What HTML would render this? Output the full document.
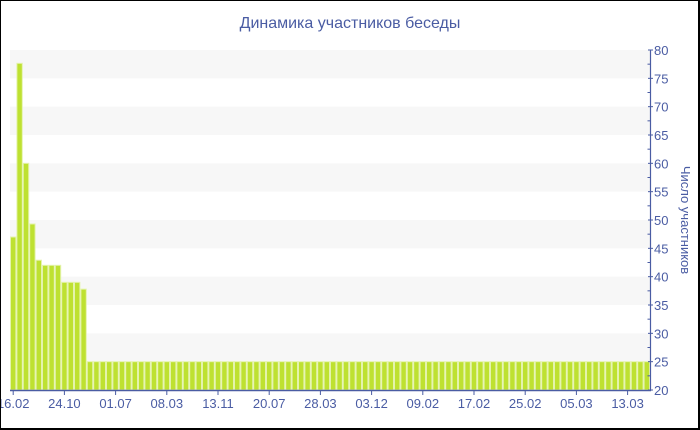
<!DOCTYPE html>
<html><head><meta charset="utf-8"><style>
html,body{margin:0;padding:0;background:#fff;}
#c{position:relative;width:700px;height:430px;overflow:hidden;}
svg{position:absolute;left:0;top:0;}
text{font-family:"Liberation Sans","DejaVu Sans",sans-serif;fill:#4a5ca3;}
</style></head><body><div id="c">
<svg width="700" height="430" viewBox="0 0 700 430" xmlns="http://www.w3.org/2000/svg">
<rect x="0" y="0" width="700" height="430" fill="#fff"/>
<!-- bands -->
<g fill="#f7f7f7">
<rect x="10" y="50" width="640" height="28.33"/>
<rect x="10" y="106.67" width="640" height="28.33"/>
<rect x="10" y="163.33" width="640" height="28.33"/>
<rect x="10" y="220" width="640" height="28.33"/>
<rect x="10" y="276.67" width="640" height="28.33"/>
<rect x="10" y="333.33" width="640" height="28.33"/>
</g>
<g id="bars" fill="#bee131" stroke="#e4f3ad" stroke-width="1"></g>
<!-- axes -->
<line x1="10" y1="390.5" x2="651" y2="390.5" stroke="#4a5ca3" stroke-width="1.5"/>
<line x1="650.5" y1="50" x2="650.5" y2="391" stroke="#4a5ca3" stroke-width="1.2"/>
<g id="yt" stroke="#4a5ca3" stroke-width="1"></g>
<g id="xt" stroke="#4a5ca3" stroke-width="1"></g>
<g id="yl" font-size="13"></g>
<g id="xl" font-size="13" text-anchor="middle"></g>
<text x="350" y="28" font-size="16" text-anchor="middle">Динамика участников беседы</text>
<text x="0" y="0" font-size="13" text-anchor="middle" transform="translate(681,220) rotate(90)">Число участников</text>
<!-- border -->
<rect x="0.5" y="0.5" width="698" height="428" fill="none" stroke="#000" stroke-width="1"/>
<line x1="699" y1="0" x2="699" y2="430" stroke="#000" stroke-width="2"/>
<line x1="0" y1="429" x2="700" y2="429" stroke="#000" stroke-width="2"/>
</svg>
<script>
(function(){
var ns="http://www.w3.org/2000/svg";
function el(t,a,p,txt){var e=document.createElementNS(ns,t);for(var k in a)e.setAttribute(k,a[k]);if(txt!==undefined)e.textContent=txt;p.appendChild(e);return e;}
var vals=[47,77.65,60,49.3,42.9,42,42,42,39,39,39,37.8];
for(var i=vals.length;i<100;i++)vals.push(25);
var bars=document.getElementById('bars');
function Y(v){return 390-(v-20)*340/60;}
for(var i=0;i<100;i++){var x=10+i*6.4;var y=Y(vals[i]);
el('rect',{x:(x+0.5).toFixed(2),y:y.toFixed(2),width:5.4,height:(390-y).toFixed(2)},bars);}
var yt=document.getElementById('yt'),yl=document.getElementById('yl');
for(var v=20;v<=80;v+=2.5){var y=Y(v);
if(v%5===0){el('line',{x1:648,y1:y,x2:653,y2:y},yt);el('text',{x:654,y:y+5},yl,String(v));}
else{el('line',{x1:647.5,y1:y,x2:650.5,y2:y},yt);}}
var labs=["16.02","24.10","01.07","08.03","13.11","20.07","28.03","03.12","09.02","17.02","25.02","05.03","13.03"];
var xt=document.getElementById('xt'),xl=document.getElementById('xl');
for(var j=0;j<labs.length;j++){var x=10+(j*8+0.5)*6.4;
el('line',{x1:x,y1:390,x2:x,y2:395},xt);el('text',{x:x,y:408},xl,labs[j]);}
})();
</script>
</div></body></html>
